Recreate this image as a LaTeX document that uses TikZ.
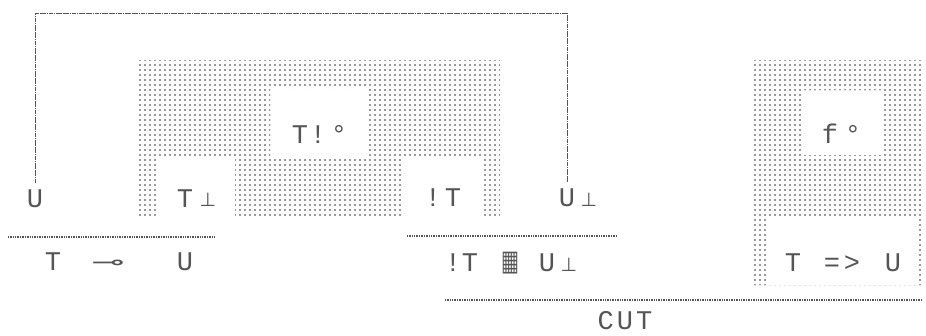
\documentclass[tikz,border=0pt]{standalone}
\usepackage{fontspec}
\usepackage{graphicx}
\setmonofont{Liberation Mono}
\newfontfamily\symf{DejaVu Sans}
\usetikzlibrary{patterns.meta}
\definecolor{ink}{HTML}{555555}
\definecolor{dotc}{HTML}{333333}
\tikzset{
  lbl/.style={font=\ttfamily\fontsize{27}{27}\selectfont, text=ink, inner sep=0pt, anchor=base},
  sym/.style={font=\symf\fontsize{19}{19}\selectfont, text=ink, inner sep=0pt, anchor=base},
  rulel/.style={draw=ink, line width=1.1pt, dash pattern=on 1pt off 0.7pt},
  wire/.style={draw=ink, line width=1pt, dash pattern=on 1.8pt off 0.5pt},
  dotfill/.style={pattern={Dots[distance=5pt,radius=0.95pt]}, pattern color=dotc},
}
\begin{document}
\begin{tikzpicture}[x=1pt,y=-1pt]
\useasboundingbox (0,0) rectangle (926,335);
% dotted boxes
\path[dotfill, even odd rule] (138,60) rectangle (500,218)
  (157,157) rectangle (235,218)
  (270,89) rectangle (368,156)
  (403,157) rectangle (483,218);
\path[dotfill, even odd rule] (752,60) rectangle (924,285)
  (803,90) rectangle (881,155)
  (767,217) rectangle (918,285);
% inference rules
\draw[rulel] (8,237) -- (215,237);
\draw[rulel] (407,236) -- (617,236);
\draw[rulel] (445,300) -- (922,300);
% upper labels
\node[lbl] (uL) at (35,207) {U};
\node[lbl] (tA) at (185,207) {T};
\node[sym] (tAp) at (208,206) {⊥};
\node[lbl] (tB) at (300,143) {T};
\node[lbl] (tBb) at (318,143) {!};
\node[lbl] (tBo) at (339,143) {°};
\node[lbl] (bT1) at (433,206) {!};
\node[lbl] (bT2) at (453,206) {T};
\node[lbl] (uR) at (567,206) {U};
\node[sym] (uRp) at (589,206) {⊥};
\node[lbl] (fA) at (830,143) {f};
\node[lbl] (fAo) at (853,143) {°};
% lower labels
\node[lbl] (lT) at (53,270) {T};
\node[sym] (lImp) at (108,269) {\scalebox{2.1}[1.1]{⊸}};
\node[lbl] (lU) at (185,270) {U};
\node[lbl] (mB) at (453,271) {!};
\node[lbl] (mT) at (470,271) {T};
\node[sym] (mPar) at (510,270) {\scalebox{1}[1.5]{▦}};
\node[lbl] (mU) at (547,271) {U};
\node[sym] (mUp) at (569,271) {⊥};
\node[lbl] (rT) at (793,271) {T};
\node[lbl] (rEq) at (832,271) {=};
\node[lbl] (rGt) at (852,271) {>};
\node[lbl] (rU) at (893,271) {U};
\node[lbl] (cut) at (625,329) {C\hspace{3pt}U\hspace{3pt}T};
% axis link
\coordinate (topbar) at (300,13);
\draw[wire, shorten <=6pt] (uL.north) |- (topbar) -| ([yshift=6pt]uR.north);
\end{tikzpicture}
\end{document}
